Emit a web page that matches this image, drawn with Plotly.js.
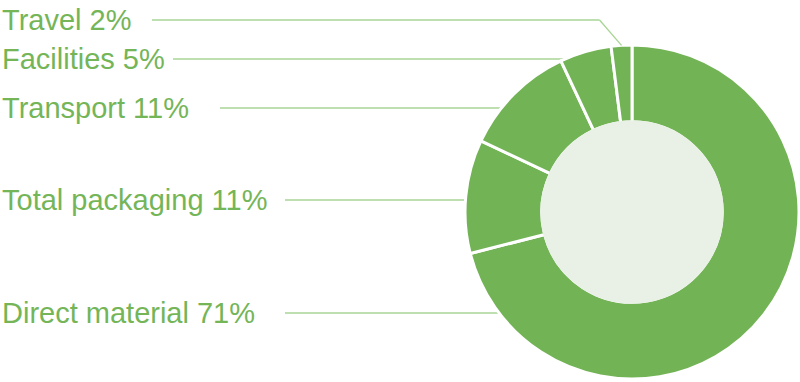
<!DOCTYPE html>
<html>
<head>
<meta charset="utf-8">
<script src="https://cdn.plot.ly/plotly-3.0.1.min.js"></script>
<style>html,body{margin:0;padding:0;background:#fff;}#chart{width:800px;height:382px;}</style>
</head>
<body>
<div id="chart"></div>
<script>
const labels = ['Direct material', 'Total packaging', 'Transport', 'Facilities', 'Travel'];
const values = [71, 11, 11, 5, 2];

// layout geometry (pixels)
const W = 800, H = 382;
const cx = 632, cy = 212, R = 167, HOLE = 0.54;
const labelY = {'Travel': 20, 'Facilities': 59, 'Transport': 108, 'Total packaging': 200, 'Direct material': 313};
const lineStart = {'Travel': 152, 'Facilities': 173, 'Transport': 220, 'Total packaging': 285, 'Direct material': 285};

const GREEN = '#72b355', TEXT = '#74b558', LINE = '#a9d495', INNER = '#e9f1e6';
const px = x => x / W, py = y => 1 - y / H;

const total = values.reduce((a, b) => a + b, 0);
const annotations = [], shapes = [];
const rIn = R * HOLE + 1.5;
shapes.push({type: 'circle', xref: 'paper', yref: 'paper',
  x0: px(cx - rIn), x1: px(cx + rIn), y0: py(cy + rIn), y1: py(cy - rIn),
  fillcolor: INNER, line: {width: 0}, layer: 'above'});

let cum = 0;
labels.forEach((lab, i) => {
  const pct = Math.round(values[i] / total * 100);
  const y = labelY[lab];
  annotations.push({text: lab + ' ' + pct + '%', xref: 'paper', yref: 'paper', x: 0, y: py(y),
    xanchor: 'left', yanchor: 'middle', showarrow: false,
    font: {family: 'Liberation Sans, Arial, sans-serif', size: 29, color: TEXT}});
  const mid = (cum + values[i] / 2) / total * 2 * Math.PI; // clockwise from top
  cum += values[i];
  if (lab === 'Travel') {
    const ex = cx + R * Math.sin(mid), ey = cy - R * Math.cos(mid);
    const bx = ex - 22;
    shapes.push({type: 'line', xref: 'paper', yref: 'paper', x0: px(lineStart[lab]), y0: py(y), x1: px(bx), y1: py(y), line: {color: LINE, width: 1.3}});
    shapes.push({type: 'line', xref: 'paper', yref: 'paper', x0: px(bx), y0: py(y), x1: px(ex), y1: py(ey), line: {color: LINE, width: 1.3}});
  } else {
    const dy = y - cy;
    const ex = cx - Math.sqrt(R * R - dy * dy);
    shapes.push({type: 'line', xref: 'paper', yref: 'paper', x0: px(lineStart[lab]), y0: py(y), x1: px(ex), y1: py(y), line: {color: LINE, width: 1.3}, layer: 'below'});
  }
});

const data = [{
  type: 'pie', labels: labels, values: values, sort: false, direction: 'clockwise', rotation: 0,
  hole: HOLE, textinfo: 'none', hoverinfo: 'label+percent',
  marker: {colors: labels.map(() => GREEN), line: {color: '#ffffff', width: 3}},
  domain: {x: [px(cx - R), px(cx + R)], y: [py(cy + R), py(cy - R)]},
  showlegend: false
}];

const layout = {
  width: W, height: H, margin: {l: 0, r: 0, t: 0, b: 0},
  paper_bgcolor: '#ffffff', plot_bgcolor: '#ffffff',
  showlegend: false, annotations: annotations, shapes: shapes
};
Plotly.newPlot('chart', data, layout, {displayModeBar: false, staticPlot: true});
</script>
</body>
</html>
